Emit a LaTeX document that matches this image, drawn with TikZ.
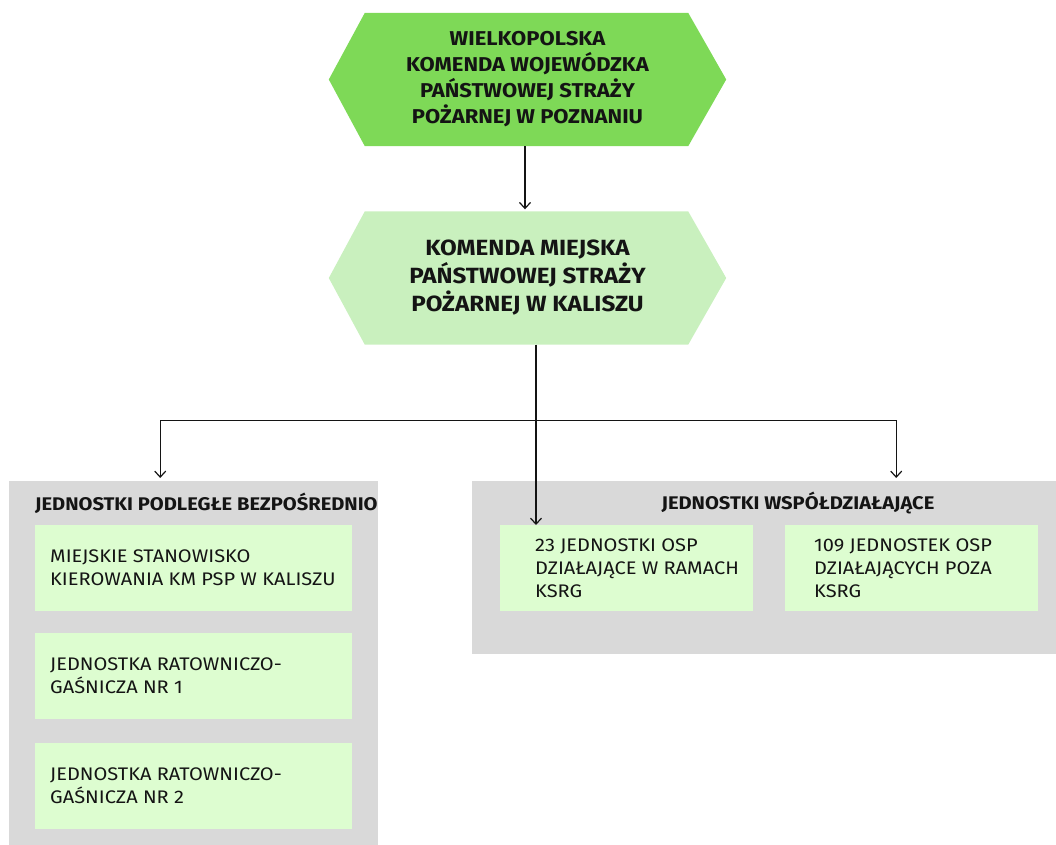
\documentclass[tikz,border=0pt]{standalone}
\usepackage{fontspec}
\setmainfont{Fira Sans}[FakeStretch=1.1]
\usetikzlibrary{arrows.meta,calc,backgrounds}

\definecolor{hexdark}{RGB}{126,217,87}
\definecolor{hexlight}{RGB}{201,240,190}
\definecolor{panelgrey}{RGB}{217,217,217}
\definecolor{unitgreen}{RGB}{221,253,208}
\definecolor{ink}{RGB}{20,20,20}

\tikzset{
  hexnode/.style={inner sep=0pt, minimum width=397pt, minimum height=133pt,
    align=center, text=ink},
  panel/.style={fill=panelgrey, inner sep=0pt, anchor=north west},
  unitbox/.style={fill=unitgreen, inner sep=0pt, minimum width=253pt,
    minimum height=86pt, anchor=north west},
  unitbig/.style={unitbox, minimum width=317pt},
  unittext/.style={anchor=west, align=left, inner sep=0pt, text=ink,
    font=\fontsize{18.2}{23}\selectfont},
  paneltitle/.style={inner sep=0pt, text=ink,
    font=\fontsize{18.3}{22}\selectfont\bfseries},
  conn/.style={draw=ink, line width=1.2pt,
    -{Straight Barb[length=6pt,width=11pt]}}
}

\begin{document}
\begin{tikzpicture}[x=1pt,y=-1pt]
\useasboundingbox (0,0) rectangle (1056,844);
\clip (0,0) rectangle (1056,844);

% headquarters
\node[hexnode, font=\fontsize{20}{26}\selectfont\bfseries] (woj) at (527.5,79.5)
  {WIELKOPOLSKA\\KOMENDA WOJEWÓDZKA\\PAŃSTWOWEJ STRAŻY\\POŻARNEJ W POZNANIU};
\node[hexnode, font=\fontsize{22}{28}\selectfont\bfseries] (kom) at (527.5,278)
  {KOMENDA MIEJSKA\\PAŃSTWOWEJ STRAŻY\\POŻARNEJ W KALISZU};

\begin{scope}[on background layer]
  \fill[hexdark] ($(woj.north west)+(36,0)$) -- ($(woj.north east)+(-38,0)$)
    -- (woj.east) -- ($(woj.south east)+(-38,0)$)
    -- ($(woj.south west)+(36,0)$) -- (woj.west) -- cycle;
  \fill[hexlight] ($(kom.north west)+(36,0)$) -- ($(kom.north east)+(-38,0)$)
    -- (kom.east) -- ($(kom.south east)+(-38,0)$)
    -- ($(kom.south west)+(36,0)$) -- (kom.west) -- cycle;
\end{scope}

% grey panels
\node[panel, minimum width=369pt, minimum height=370pt] (podl) at (9,481) {};
\node[panel, minimum width=590pt, minimum height=173pt] (wsp) at (472,481) {};

\node[paneltitle, anchor=west] (podlt) at (35,503) {JEDNOSTKI PODLEGŁE BEZPOŚREDNIO};
\node[paneltitle] (wspt) at (798,503) {JEDNOSTKI WSPÓŁDZIAŁAJĄCE};

% directly subordinate units
\node[unitbig] (msk) at (35,525) {};
\node[unitbig] (jrg1) at (35,633) {};
\node[unitbig] (jrg2) at (35,743) {};
\node[unittext] (msk-t) at ($(msk.west)+(15,0)$)
  {MIEJSKIE STANOWISKO\\KIEROWANIA KM PSP W KALISZU};
\node[unittext] (jrg1-t) at ($(jrg1.west)+(15,0)$)
  {JEDNOSTKA RATOWNICZO-\\GAŚNICZA NR 1};
\node[unittext] (jrg2-t) at ($(jrg2.west)+(15,0)$)
  {JEDNOSTKA RATOWNICZO-\\GAŚNICZA NR 2};

% cooperating units
\node[unitbox] (osp23) at (500,525) {};
\node[unitbox] (osp109) at (785,525) {};
\node[unittext] (osp23-t) at ($(osp23.west)+(35,0)$)
  {23 JEDNOSTKI OSP\\DZIAŁAJĄCE W RAMACH\\KSRG};
\node[unittext] (osp109-t) at ($(osp109.west)+(29,0)$)
  {109 JEDNOSTEK OSP\\DZIAŁAJĄCYCH POZA\\KSRG};

% connectors
\draw[conn] ([xshift=-2.5pt]woj.south) -- ([xshift=-2.5pt,yshift=2pt]kom.north);
\coordinate (trunk) at ([xshift=8.5pt]kom.south);
\coordinate (split) at ($(trunk)+(0,76)$);
\draw[conn] (trunk) -- (trunk |- osp23.north);
\draw[conn] (split) -| ([xshift=-33.5pt,yshift=3pt]podl.north);
\draw[conn] (split) -| ([xshift=129pt,yshift=3pt]wsp.north);
\end{tikzpicture}
\end{document}
